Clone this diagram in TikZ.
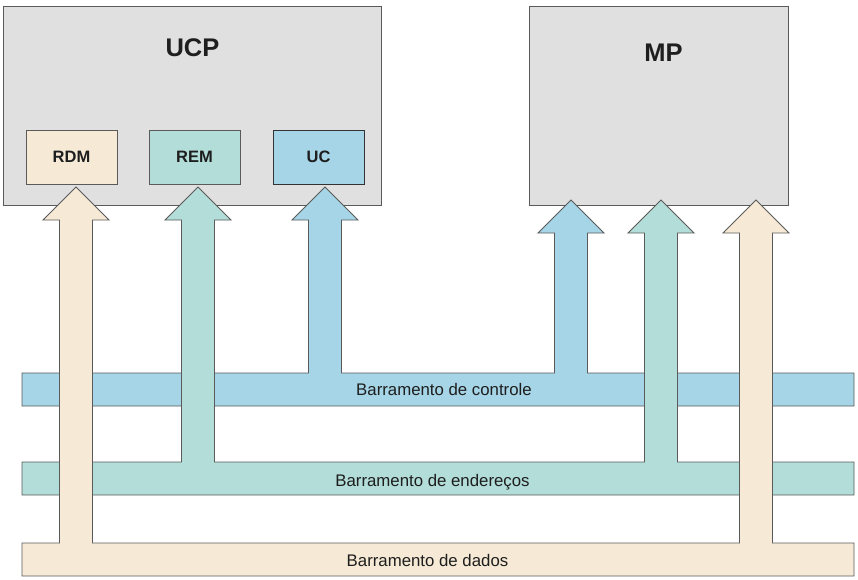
\documentclass[tikz,border=0pt]{standalone}
\usepackage{fontspec}
\setmainfont{Liberation Sans}
\definecolor{boxgray}{HTML}{E0E0E0}
\definecolor{edgegray}{HTML}{5A5A5A}
\definecolor{ctrlblue}{HTML}{A5D5E6}
\definecolor{addrteal}{HTML}{B2DDD8}
\definecolor{databeige}{HTML}{F6EAD6}
\definecolor{txt}{HTML}{1E1E1E}
\tikzset{
  unit/.style={draw=edgegray, fill=boxgray, line width=0.9pt},
  reg/.style={draw=edgegray, line width=0.9pt, minimum width=91pt, minimum height=54pt, inner sep=0pt,
              font=\fontsize{16.5}{18}\selectfont\bfseries, text=txt},
  bigtitle/.style={font=\fontsize{25.5}{28}\selectfont\bfseries, text=txt, anchor=base},
  buslabel/.style={font=\fontsize{16.8}{19}\selectfont, text=txt, anchor=base},
  busshape/.style={draw=edgegray, line width=0.9pt, line join=miter},
}
\begin{document}
\begin{tikzpicture}[x=1pt, y=-1pt]
\useasboundingbox (0,0) rectangle (858,579);
% main units
\draw[unit] (3,6) rectangle (381,205);
\draw[unit] (529,6) rectangle (788,205);
\node[bigtitle] (ucp) at (192.5,56) {UCP};
\node[bigtitle] (mp) at (663.5,61) {MP};
% registers
\node[reg, fill=databeige] (rdm) at (71.5,157) {RDM};
\node[reg, fill=addrteal] (rem) at (194.5,157) {REM};
\node[reg, fill=ctrlblue, draw=black!80] (uc) at (318.5,157) {UC};
% control bus with arrows
\draw[busshape, fill=ctrlblue]
  (22,373) -- (308.5,373) -- (308.5,220) -- (292,220) -- (325,187) -- (358,220) -- (341.5,220) -- (341.5,373)
  -- (554.5,373) -- (554.5,233) -- (538,233) -- (571,200) -- (604,233) -- (587.5,233) -- (587.5,373)
  -- (854,373) -- (854,406) -- (22,406) -- cycle;
% address bus with arrows
\draw[busshape, fill=addrteal]
  (22,462) -- (181.5,462) -- (181.5,220) -- (165,220) -- (198,187) -- (231,220) -- (214.5,220) -- (214.5,462)
  -- (644.5,462) -- (644.5,233) -- (628,233) -- (661,200) -- (694,233) -- (677.5,233) -- (677.5,462)
  -- (854,462) -- (854,495) -- (22,495) -- cycle;
% data bus with arrows
\draw[busshape, fill=databeige]
  (22,543) -- (59.5,543) -- (59.5,220) -- (43,220) -- (76,187) -- (109,220) -- (92.5,220) -- (92.5,543)
  -- (739.5,543) -- (739.5,233) -- (723,233) -- (756,200) -- (789,233) -- (772.5,233) -- (772.5,543)
  -- (854,543) -- (854,576) -- (22,576) -- cycle;
% bus labels
\node[buslabel] (lctrl) at (444,395) {Barramento de controle};
\node[buslabel] (laddr) at (432.5,486) {Barramento de endereços};
\node[buslabel] (ldata) at (427.5,566.5) {Barramento de dados};
\end{tikzpicture}
\end{document}
